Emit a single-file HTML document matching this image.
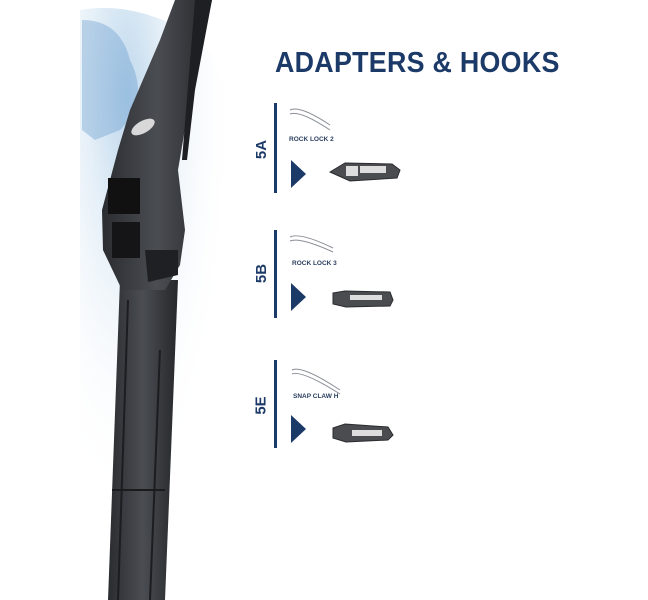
<!DOCTYPE html>
<html><head><style>
body{margin:0;width:648px;height:600px;background:#fff;position:relative;overflow:hidden;font-family:"Liberation Sans",sans-serif}
.t{position:absolute;left:275px;top:47px;font-size:29px;font-weight:bold;color:#1c3a68;letter-spacing:0.3px;transform:scaleX(0.925);transform-origin:left}
.vl{position:absolute;left:274px;width:3px;background:#1c3a68}
.lab{position:absolute;font-size:15px;font-weight:bold;color:#1c3a68;transform:rotate(-90deg)}
.sm{position:absolute;font-size:6.5px;font-weight:bold;color:#2b3f60}
</style></head><body>
<svg width="648" height="600" style="position:absolute;left:0;top:0">
<defs>
<radialGradient id="w" cx="0.3" cy="0.15" r="0.7">
<stop offset="0" stop-color="#8ab8de"/><stop offset="0.35" stop-color="#cfe2f1"/><stop offset="1" stop-color="#fff" stop-opacity="0"/></radialGradient>
<linearGradient id="b" x1="0" x2="1"><stop offset="0" stop-color="#2a2c30"/><stop offset="0.5" stop-color="#4a4d52"/><stop offset="1" stop-color="#25272a"/></linearGradient>
</defs>
<path d="M80 10 Q140 0 200 40 Q240 90 225 160 Q250 250 215 320 Q230 420 205 520 L190 600 L150 600 L80 560 Z" fill="url(#w)" opacity="0.55"/>
<path d="M82 20 Q120 20 130 60 Q150 100 120 130 L95 140 L82 130Z" fill="#5a93c8" opacity="0.35"/>
<polygon points="120,280 178,280 165,600 108,600" fill="url(#b)"/>
<line x1="128" y1="300" x2="118" y2="600" stroke="#1c1d20" stroke-width="2"/>
<line x1="160" y1="350" x2="150" y2="600" stroke="#1c1d20" stroke-width="2"/>
<line x1="112" y1="490" x2="165" y2="490" stroke="#1a1b1d" stroke-width="2"/>
<polygon points="175,0 212,0 195,70 178,170 185,230 180,265 165,290 122,290 103,250 102,210 118,150 130,110 160,40" fill="url(#b)"/>
<polygon points="195,0 212,0 195,90 187,160 182,160" fill="#1e1f22"/>
<rect x="108" y="178" width="32" height="36" fill="#111"/>
<rect x="112" y="222" width="28" height="36" fill="#151517"/>
<polygon points="145,250 178,250 178,275 148,282" fill="#1f2023"/>
<ellipse cx="143" cy="127" rx="13" ry="6" fill="#d8d8d8" transform="rotate(-30 143 127)"/>
<g fill="#4a4c50" stroke="#2a2b2e" stroke-width="1">
<path d="M330 172 L345 163 L392 164 L400 170 L397 178 L350 181 Z"/>
<path d="M333 293 L345 291 L390 292 L393 300 L390 306 L346 307 L333 304 Z"/>
<path d="M333 428 L345 424 L388 427 L393 435 L388 440 L346 442 L333 438 Z"/>
</g>
<g fill="#ddd"><rect x="346" y="166" width="12" height="10"/><rect x="360" y="166" width="26" height="7"/>
<rect x="350" y="295" width="32" height="5"/><rect x="352" y="430" width="30" height="6"/></g>
<g fill="none" stroke="#8a8e96" stroke-width="1">
<path d="M290 110 Q300 105 330 125 M290 114 Q300 110 330 130"/>
<path d="M290 237 Q300 232 333 248 M290 241 Q300 237 333 252"/>
<path d="M292 370 Q302 365 340 390 M292 374 Q302 370 340 394"/>
</g>
<g fill="#1c3a68">
<polygon points="291,160 306,174 291,188"/>
<polygon points="291,283 306,297 291,311"/>
<polygon points="291,415 306,429 291,443"/>
</g>
</svg>
<div class="t">ADAPTERS &amp; HOOKS</div>
<div class="vl" style="top:103px;height:90px"></div>
<div class="vl" style="top:230px;height:88px"></div>
<div class="vl" style="top:360px;height:88px"></div>
<div class="lab" style="left:252px;top:141px">5A</div>
<div class="lab" style="left:252px;top:265px">5B</div>
<div class="lab" style="left:252px;top:397px">5E</div>
<div class="sm" style="left:289px;top:136px">ROCK LOCK 2</div>
<div class="sm" style="left:292px;top:260px">ROCK LOCK 3</div>
<div class="sm" style="left:293px;top:393px">SNAP CLAW H</div>
</body></html>
